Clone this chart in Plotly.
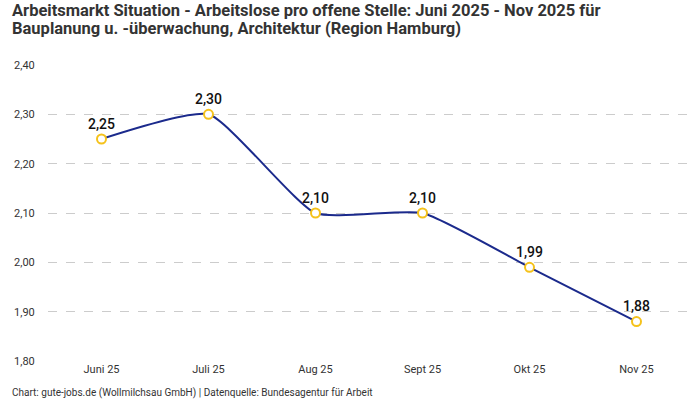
import plotly.graph_objects as go

months = ["Juni 25", "Juli 25", "Aug 25", "Sept 25", "Okt 25", "Nov 25"]
ratio = [2.25, 2.30, 2.10, 2.10, 1.99, 1.88]
y_ticks = [1.80, 1.90, 2.00, 2.10, 2.20, 2.30, 2.40]

title_lines = [
    "Arbeitsmarkt Situation - Arbeitslose pro offene Stelle: Juni 2025 - Nov 2025 für",
    "Bauplanung u. -überwachung, Architektur (Region Hamburg)",
]
footer = "Chart: gute-jobs.de (Wollmilchsau GmbH) | Datenquelle: Bundesagentur für Arbeit"

fig = go.Figure()
fig.add_trace(
    go.Scatter(
        x=months,
        y=ratio,
        mode="lines+markers+text",
        line=dict(color="#1b2a8c", width=2, shape="spline", smoothing=0.5),
        marker=dict(size=9, color="white", line=dict(color="#f5c21b", width=2)),
        texttemplate="%{y:.2f}",
        textposition="top center",
        textfont=dict(size=14, color="#111111", weight=500),
        cliponaxis=False,
        hoverinfo="skip",
    )
)

# title as two lines placed by hand (tighter line spacing than <br>)
annotations = []
for i, line in enumerate(title_lines):
    annotations.append(
        dict(
            text=f"<b>{line}</b>",
            xref="paper",
            yref="paper",
            x=-38 / 642,
            y=1 + (54 - 18 * i) / 296,
            xanchor="left",
            yanchor="middle",
            showarrow=False,
            font=dict(size=16.5, color="#333333"),
        )
    )
annotations.append(
    dict(
        text=footer,
        xref="paper",
        yref="paper",
        x=-38 / 642,
        y=-32 / 296,
        xanchor="left",
        yanchor="middle",
        showarrow=False,
        font=dict(size=10, color="#333333"),
    )
)

fig.update_layout(
    width=700,
    height=400,
    margin=dict(l=48, r=10, t=65, b=39),
    plot_bgcolor="white",
    paper_bgcolor="white",
    separators=",.",
    showlegend=False,
    font=dict(family="Roboto, sans-serif", size=11, color="#333333"),
    annotations=annotations,
)
fig.update_xaxes(
    range=[-0.5, 5.5],
    showgrid=False,
    showline=False,
    ticks="",
    tickfont=dict(size=11),
)
fig.update_yaxes(
    range=[1.80, 2.40],
    tickvals=y_ticks,
    tickformat=".2f",
    showgrid=True,
    gridcolor="#cccccc",
    griddash="dash",
    gridwidth=1,
    zeroline=False,
    showline=False,
    ticks="outside",
    ticklen=10,
    tickcolor="rgba(0,0,0,0)",
    tickfont=dict(size=11),
)

fig.write_html(
    "out.html",
    config={"displayModeBar": False},
    post_script="document.body.style.margin='0';",
)
